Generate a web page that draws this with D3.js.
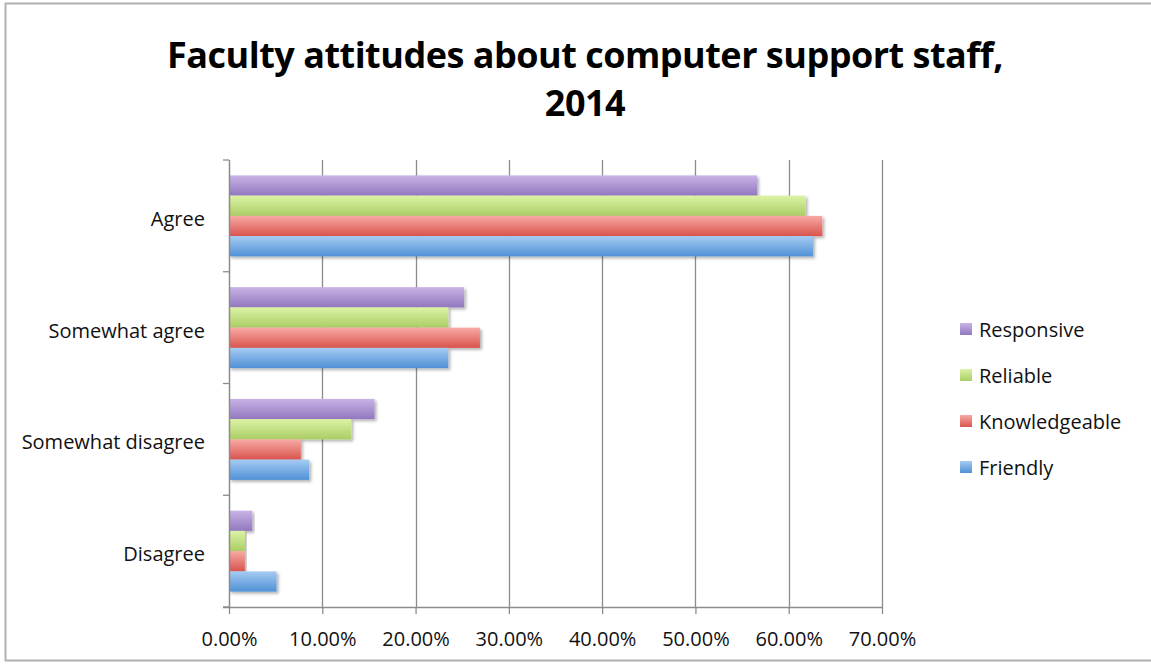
<!DOCTYPE html>
<html><head><meta charset="utf-8">
<script src="https://cdn.jsdelivr.net/npm/d3@7"></script>
<style>body{margin:0;background:#fff;} svg{display:block;}</style>
</head><body>
<svg id="c" width="1151" height="665"></svg>
<script>
const categories = ["Agree","Somewhat agree","Somewhat disagree","Disagree"];
const seriesNames = ["Responsive","Reliable","Knowledgeable","Friendly"];
const responsive = [0.566, 0.252, 0.156, 0.025];
const reliable = [0.618, 0.235, 0.131, 0.017];
const knowledgeable = [0.636, 0.269, 0.077, 0.017];
const friendly = [0.626, 0.235, 0.086, 0.051];
const xTicks = [0,0.1,0.2,0.3,0.4,0.5,0.6,0.7];
const titleLines = ["Faculty attitudes about computer support staff,","2014"];

const seriesValues = [responsive, reliable, knowledgeable, friendly];
const colors = [
  {light:"#c9b3e6", dark:"#9277bf"},
  {light:"#dcf3a5", dark:"#aacd64"},
  {light:"#f8aaa5", dark:"#d9534d"},
  {light:"#a6cbf3", dark:"#4f91d6"}
];

const svg = d3.select("#c");
const font = "'Open Sans', sans-serif";

// outer border
svg.append("rect").attr("x",5.5).attr("y",3.5).attr("width",1160).attr("height",657)
  .attr("fill","none").attr("stroke","#b0b0b0").attr("stroke-width",2);

const defs = svg.append("defs");
colors.forEach((c,i)=>{
  const g = defs.append("linearGradient").attr("id","g"+i).attr("x1",0).attr("y1",0).attr("x2",0).attr("y2",1);
  g.append("stop").attr("offset","0%").attr("stop-color",c.light);
  g.append("stop").attr("offset","100%").attr("stop-color",c.dark);
});
const f = defs.append("filter").attr("id","sh").attr("x","-5%").attr("y","-20%").attr("width","115%").attr("height","160%");
f.append("feDropShadow").attr("dx",2).attr("dy",2).attr("stdDeviation",1.5).attr("flood-color","#000").attr("flood-opacity",0.3);

const pL = 229, pR = 882, pT = 160, pB = 607;
const x = d3.scaleLinear().domain([0,0.7]).range([pL,pR]);
const y = d3.scaleBand().domain(categories).range([pT,pB]);
const inner = d3.scaleBand().domain(seriesNames).range([0,y.bandwidth()]).paddingOuter(0.76).paddingInner(0);

// title
svg.append("g").selectAll("text").data(titleLines).join("text")
  .attr("x",585).attr("y",(d,i)=>68+i*48).attr("text-anchor","middle")
  .attr("font-family",font).attr("font-weight","bold").attr("font-size",36).attr("fill","#000")
  .style("letter-spacing","-0.5px")
  .text(d=>d);

// gridlines
svg.append("g").selectAll("line").data(xTicks.slice(1)).join("line")
  .attr("x1",d=>Math.round(x(d))+0.5).attr("x2",d=>Math.round(x(d))+0.5)
  .attr("y1",pT).attr("y2",pB).attr("stroke","#8c8c8c").attr("stroke-width",1.3);

// bars
categories.forEach((cat,ci)=>{
  seriesNames.forEach((s,si)=>{
    svg.append("rect")
      .attr("x",x(0)).attr("y",y(cat)+inner(s))
      .attr("width",x(seriesValues[si][ci])-x(0)).attr("height",inner.bandwidth())
      .attr("fill","url(#g"+si+")").attr("filter","url(#sh)");
  });
});

// x axis
const xAxis = d3.axisBottom(x).tickValues(xTicks).tickFormat(d=>(d*100).toFixed(2)+"%").tickSize(7);
const gx = svg.append("g").attr("transform",`translate(0,${pB})`).call(xAxis);
gx.select(".domain").attr("d",`M${pL-6},0.5H${pR}`).attr("stroke","#8c8c8c").attr("stroke-width",1.5);
gx.selectAll(".tick line").attr("stroke","#8c8c8c").attr("stroke-width",1.3);
gx.selectAll("text").attr("y",39).attr("dy",null).attr("font-family",font).attr("font-size",20).attr("fill","#111");

// y axis
const gy = svg.append("g").attr("transform",`translate(${pL},0)`);
gy.append("line").attr("x1",0.5).attr("x2",0.5).attr("y1",pT).attr("y2",pB).attr("stroke","#8c8c8c").attr("stroke-width",1.5);
const bounds = categories.map(c=>y(c)).concat([pB]);
gy.selectAll("line.t").data(bounds).join("line").attr("class","t")
  .attr("x1",-6).attr("x2",0).attr("y1",d=>d).attr("y2",d=>d).attr("stroke","#8c8c8c").attr("stroke-width",1.3);
gy.selectAll("text").data(categories).join("text")
  .attr("x",-24).attr("y",d=>y(d)+y.bandwidth()/2+10).attr("text-anchor","end")
  .attr("font-family",font).attr("font-size",20).attr("fill","#111").text(d=>d);

// legend
const lg = svg.append("g");
seriesNames.forEach((s,i)=>{
  const yy = 323 + i*46;
  lg.append("rect").attr("x",960).attr("y",yy).attr("width",12).attr("height",12).attr("fill","url(#g"+i+")");
  lg.append("text").attr("x",979).attr("y",yy+14).attr("font-family",font).attr("font-size",20).attr("fill","#111").text(s);
});
</script>
</body></html>
